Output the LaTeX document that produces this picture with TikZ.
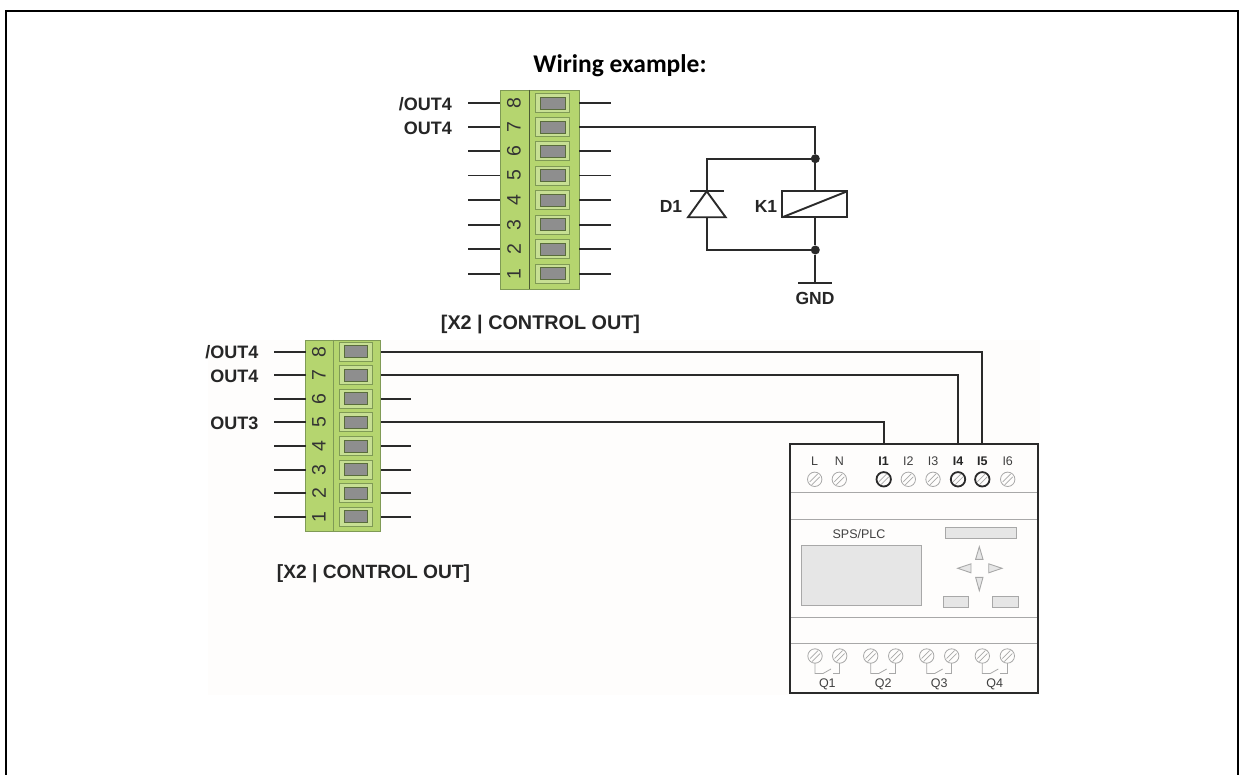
\documentclass[tikz,border=0pt]{standalone}
\usepackage{fontspec}
\setmainfont{Liberation Sans}
\newfontfamily\titlefont{Carlito}
\definecolor{termgreen}{HTML}{B5D56F}
\definecolor{termedge}{HTML}{7F9A55}
\definecolor{slotgrey}{HTML}{8E8E8E}
\definecolor{wirec}{HTML}{2A2A2A}
\definecolor{plcgrey}{HTML}{A8A8A8}
\definecolor{plcfill}{HTML}{E6E6E6}
\definecolor{paper}{HTML}{FEFDFC}
\tikzset{
  wire/.style={draw=wirec,line width=1.9pt},
  lab/.style={font=\fontsize{18}{20}\selectfont\bfseries,text=black!85,inner sep=0pt},
  plate/.style={draw=termedge,line width=0.9pt,fill=termgreen},
  slotouter/.style={draw=termedge,line width=0.8pt,fill=termgreen!75!white},
  slotinner/.style={draw=termedge!70!black,line width=0.8pt,fill=slotgrey},
  pinnum/.style={font=\fontsize{19.5}{20}\selectfont,rotate=90,text=black!80,inner sep=0pt},
  plcline/.style={draw=plcgrey,line width=0.9pt},
  plcbox/.style={draw=plcgrey,line width=0.9pt,fill=plcfill},
  plctxt/.style={font=\fontsize{12.5}{14}\selectfont,text=black!75,inner sep=0pt},
  plcbold/.style={plctxt,font=\fontsize{12.5}{14}\selectfont\bfseries,text=black!85},
  dotn/.style={circle,fill=wirec,inner sep=0pt,minimum size=9pt},
}
\newcommand{\screw}[3]{% x, y, style
  \draw[#3] (#1,#2) circle (7.2);
  \draw[plcgrey,line width=0.7pt] ({#1-5},{#2+2.5}) -- ({#1+3},{#2-5.5});
  \draw[plcgrey,line width=0.7pt] ({#1-3},{#2+5.5}) -- ({#1+5},{#2-2.5});
}
\begin{document}
\begin{tikzpicture}[x=1pt,y=-1pt]
\useasboundingbox (0,0) rectangle (1239,775);
\fill[white] (0,0) rectangle (1239,775);
\fill[paper] (208,340) rectangle (1040,695);
\draw[black,line width=2pt] (6,775) -- (6,11) -- (1238,11) -- (1238,775);
\node[font=\titlefont\fontsize{25.5}{28}\selectfont\bfseries,text=black,inner sep=0pt] (title) at (620,65.5) {Wiring example:};
% upper terminal
\draw[plate] (500,90) rectangle (579,289);
\draw[termedge!60!black,line width=0.8pt] (529.3,90) -- (529.3,289);
\foreach \n/\y in {8/103.3,7/127,6/151,5/175.5,4/200,3/224.7,2/249,1/273.7}{
  \draw[wire] (468,\y) -- (500,\y);
  \node[pinnum] at (514,\y) {\n};
  \draw[slotouter] (535.7,\y-9.5) rectangle (569.3,\y+9.5);
  \draw[slotinner] (540,\y-6) rectangle (565.3,\y+6);
}
\foreach \y in {103.3,151,175.5,200,224.7,249,273.7}{\draw[wire] (579,\y) -- (610.7,\y);}
\node[lab,anchor=east] (ua) at (452,104) {/OUT4};
\node[lab,anchor=east] (ub) at (452,128) {OUT4};
\node[lab,font=\fontsize{19.8}{22}\selectfont\bfseries] (ulab) at (540.5,325) {[X2 | CONTROL OUT]};
% relay circuit
\coordinate (wstart) at (579,127);
\coordinate (wtop) at (815.3,127);
\node[dotn] (jt) at (815.3,158.7) {};
\node[dotn] (jb) at (815.3,250) {};
\coordinate (dtop) at (706.7,158.7);
\coordinate (dbot) at (706.7,250);
\coordinate (gnd) at (815.3,282.7);
\draw[wire] (wstart) -- (wtop) -- (jt);
\draw[wire] (jt) -- (815.3,191.3);
\draw[wire] (815.3,217.3) -- (jb);
\draw[wire] (jb) -- (gnd);
\draw[wire] (798,282.7) -- (832,282.7);
\draw[wire] (jt) -- (dtop) -- (706.7,191.3);
\draw[wire] (706.7,217.3) -- (dbot) -- (jb);
\draw[wire] (690,191.3) -- (724,191.3);
\draw[wire,line join=miter] (706.7,191.3) -- (725.7,217.3) -- (688,217.3) -- cycle;
\draw[wire] (782.3,191.3) rectangle (847.3,217.3);
\draw[wire] (782.3,217.3) -- (847.3,191.3);
\node[lab,font=\fontsize{17.5}{19}\selectfont\bfseries] (d1) at (671,206.5) {D1};
\node[lab,font=\fontsize{17.5}{19}\selectfont\bfseries] (k1) at (766,206.5) {K1};
\node[lab,font=\fontsize{17.5}{19}\selectfont\bfseries] (gndl) at (815,298) {GND};
% lower terminal
\draw[plate] (305.7,340) rectangle (380.7,531.3);
\draw[termedge,line width=0.8pt] (333.3,340) -- (333.3,531.3);
\foreach \n/\y in {8/351.7,7/375,6/398.7,5/422.3,4/446,3/469.7,2/493.3,1/516.7}{
  \draw[wire] (274.3,\y) -- (305.7,\y);
  \node[pinnum] at (319,\y) {\n};
  \draw[slotouter] (339,\y-9.5) rectangle (372,\y+9.5);
  \draw[slotinner] (344,\y-6) rectangle (367.3,\y+6);
}
\foreach \y in {398.7,446,469.7,493.3,516.7}{\draw[wire] (381,\y) -- (411,\y);}
\node[lab,anchor=east] (la) at (258.5,352.5) {/OUT4};
\node[lab,anchor=east] (lb) at (258.5,376) {OUT4};
\node[lab,anchor=east] (lc) at (258.5,423) {OUT3};
\node[lab,font=\fontsize{19.2}{21}\selectfont\bfseries] (llab) at (373.5,573.5) {[X2 | CONTROL OUT]};
% PLC
\draw[plcline] (790,492.7) -- (1038,492.7) (790,519) -- (1038,519) (790,617.7) -- (1038,617.7) (790,643.3) -- (1038,643.3);
\draw[plcbox] (801.7,545) rectangle (921.7,605);
\draw[plcbox] (945,527) rectangle (1016.7,538.3);
\draw[plcbox] (943.3,596.7) rectangle (968.7,607.3);
\draw[plcbox] (992.7,596.7) rectangle (1018.3,607.3);
\draw[plcbox] (979.3,546.7) -- (983,559.3) -- (975.6,559.3) -- cycle;
\draw[plcbox] (979.3,590.7) -- (983,577.3) -- (975.6,577.3) -- cycle;
\draw[plcbox] (957.7,568.3) -- (971,563.8) -- (971,572.8) -- cycle;
\draw[plcbox] (1002,568.3) -- (988.7,563.8) -- (988.7,572.8) -- cycle;
\node[plctxt] (plc) at (859,534.3) {SPS/PLC};
\foreach \t/\x in {L/814.7,N/839.3,I2/908.3,I3/933,I6/1007.7}{
  \node[plctxt] at (\x,461) {\t};
  \screw{\x}{479.3}{plcgrey,line width=0.8pt}
}
\foreach \t/\x in {I1/883.7,I4/958,I5/982.3}{
  \node[plcbold] at (\x,461) {\t};
  \screw{\x}{479.3}{wirec,line width=1.8pt}
}
\foreach \a/\b/\t in {815/839.7/Q1,870.7/895.7/Q2,926.7/951.7/Q3,982.3/1007.3/Q4}{
  \screw{\a}{656}{plcgrey,line width=0.8pt}
  \screw{\b}{656}{plcgrey,line width=0.8pt}
  \draw[plcgrey,line width=0.8pt] (\a,663.2) -- (\a,673.5) -- ({\a+8},673.5) -- ({\a+16},669);
  \draw[plcgrey,line width=0.8pt] (\b,663.2) -- (\b,673.5) -- ({\b-7},673.5);
  \node[plctxt] at ({(\a+\b)/2},684.5) {\t};
}
\draw[wirec,line width=1.8pt,fill=none] (790,444) rectangle (1038,693);
\coordinate (i1) at (883.7,444);
\coordinate (i4) at (958,444);
\coordinate (i5) at (982.3,444);
\draw[wire] (381,351.7) -| (i5);
\draw[wire] (381,375) -| (i4);
\draw[wire] (381,422.3) -| (i1);
\end{tikzpicture}
\end{document}
